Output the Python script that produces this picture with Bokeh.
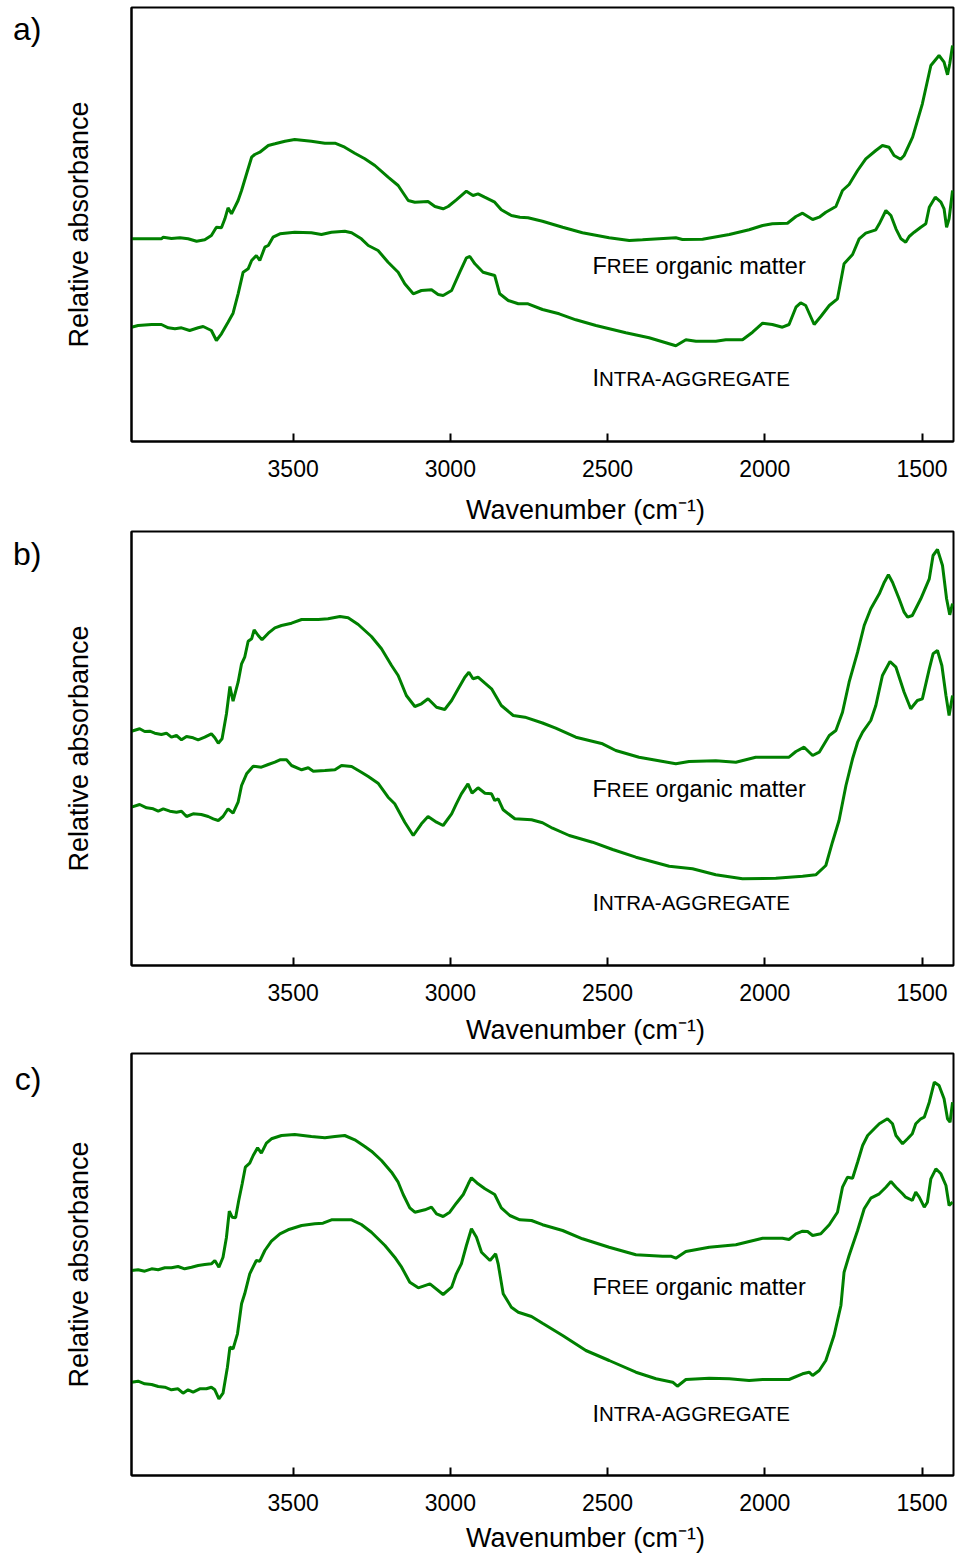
from bokeh.plotting import figure
from bokeh.layouts import column
from bokeh.models import Range1d, FixedTicker, Label, LinearAxis
from bokeh.embed import file_html
from bokeh.resources import INLINE

FONT = "Liberation Sans"
GREEN = "#008000"
WN_LEFT, WN_RIGHT = 4014, 1400
X_TICKS = [3500, 3000, 2500, 2000, 1500]
PANEL_TAGS = ["a)", "b)", "c)"]
Y_TITLE = "Relative absorbance"
X_TITLE = "Wavenumber (cm\u207b\u00b9)"
FREE_NAME = ("F", "REE", "organic matter")
INTRA_NAME = ("I", "NTRA-AGGREGATE", "")

# (wavenumber cm-1, relative absorbance, arbitrary offset units)
free_a = [(4014, 202.7), (3919, 202.7), (3913, 204.3), (3887, 203.0), (3860, 203.7), (3834, 202.7),
          (3807, 200.3), (3781, 201.7), (3760, 206.0), (3744, 214.3), (3728, 213.7), (3717, 222.7),
          (3707, 233.7), (3696, 227.7), (3675, 241.0), (3664, 251.0), (3648, 267.7), (3632, 284.3),
          (3622, 287.0), (3606, 289.3), (3579, 296.0), (3558, 297.7), (3526, 300.3), (3495, 302.0),
          (3442, 300.3), (3399, 298.3), (3367, 298.3), (3336, 294.3), (3304, 288.3), (3272, 282.7),
          (3240, 276.0), (3198, 264.3), (3166, 256.0), (3134, 241.0), (3113, 239.3), (3071, 240.0),
          (3049, 235.0), (3023, 232.7), (3007, 235.0), (2981, 241.7), (2949, 250.3), (2928, 246.0),
          (2912, 247.7), (2891, 244.3), (2859, 239.3), (2838, 231.7), (2806, 226.0), (2779, 224.3),
          (2753, 223.7), (2707, 220.3), (2643, 214.3), (2580, 208.7), (2495, 203.7), (2431, 201.0),
          (2389, 201.7), (2283, 203.7), (2262, 202.0), (2198, 202.3), (2113, 207.0), (2050, 211.7),
          (2007, 216.0), (1976, 217.7), (1928, 218.3), (1901, 225.0), (1880, 228.3), (1848, 222.0),
          (1827, 224.3), (1806, 229.3), (1774, 235.0), (1753, 251.0), (1732, 257.0), (1705, 271.0),
          (1679, 282.7), (1647, 291.0), (1626, 296.0), (1605, 294.3), (1589, 286.0), (1568, 282.3),
          (1557, 286.0), (1530, 304.3), (1499, 337.7), (1472, 376.0), (1446, 386.0), (1430, 379.3),
          (1419, 366.7), (1412, 377.7), (1403, 396.0)]

intra_a = [(4014, 114.3), (3993, 116.0), (3950, 117.0), (3919, 117.0), (3897, 113.7), (3876, 112.7),
           (3855, 113.7), (3829, 111.0), (3802, 113.7), (3786, 115.0), (3760, 111.0), (3744, 101.0),
           (3728, 107.7), (3707, 119.3), (3691, 128.3), (3675, 147.7), (3659, 169.3), (3643, 172.7),
           (3632, 181.0), (3617, 186.0), (3606, 181.0), (3590, 194.3), (3579, 196.0), (3564, 204.3),
           (3542, 207.7), (3495, 209.3), (3442, 208.7), (3410, 207.0), (3378, 209.3), (3336, 210.3),
           (3314, 208.7), (3283, 202.7), (3261, 196.0), (3230, 191.0), (3198, 179.3), (3166, 169.3),
           (3145, 157.7), (3118, 147.7), (3092, 151.0), (3060, 151.7), (3039, 147.0), (3023, 146.0),
           (2996, 151.0), (2970, 169.3), (2949, 183.7), (2938, 185.0), (2922, 177.7), (2896, 169.3),
           (2859, 166.0), (2843, 147.7), (2816, 141.0), (2784, 137.7), (2753, 137.7), (2707, 132.0),
           (2654, 127.7), (2601, 121.7), (2537, 116.0), (2442, 108.7), (2368, 103.7), (2283, 95.7),
           (2251, 101.7), (2219, 100.3), (2156, 100.3), (2124, 101.7), (2071, 101.7), (2039, 109.3),
           (2007, 118.3), (1976, 117.0), (1944, 114.3), (1923, 117.0), (1901, 134.3), (1886, 138.7),
           (1870, 136.0), (1843, 117.0), (1822, 125.0), (1795, 136.0), (1769, 142.7), (1748, 177.7),
           (1721, 187.0), (1700, 202.7), (1679, 208.3), (1647, 211.7), (1636, 217.7), (1615, 231.0),
           (1599, 226.0), (1583, 212.7), (1567, 202.7), (1552, 199.3), (1541, 205.0), (1525, 209.3),
           (1504, 214.3), (1488, 217.7), (1477, 234.3), (1458, 244.3), (1440, 239.3), (1430, 232.7),
           (1422, 214.3), (1414, 222.7), (1403, 251.0)]

free_b = [(4014, 234.3), (3988, 236.7), (3972, 234.0), (3956, 234.3), (3940, 232.3), (3919, 231.0),
          (3903, 232.3), (3887, 228.3), (3871, 230.0), (3855, 225.7), (3839, 229.0), (3818, 227.7),
          (3802, 225.7), (3781, 228.3), (3760, 231.7), (3749, 227.7), (3738, 222.3), (3726, 226.7),
          (3712, 251.7), (3701, 279.0), (3691, 264.3), (3675, 283.3), (3664, 301.7), (3654, 308.3),
          (3643, 324.3), (3632, 326.7), (3624, 335.7), (3611, 330.0), (3599, 325.7), (3579, 332.3),
          (3558, 337.7), (3537, 340.0), (3505, 342.3), (3473, 346.0), (3420, 346.0), (3389, 346.7),
          (3351, 349.0), (3325, 347.7), (3293, 341.0), (3251, 329.0), (3219, 316.7), (3187, 300.0),
          (3166, 290.0), (3140, 270.0), (3113, 259.0), (3092, 261.7), (3071, 266.7), (3044, 258.3),
          (3018, 256.0), (2996, 265.0), (2975, 276.7), (2954, 288.3), (2941, 293.3), (2928, 286.7),
          (2912, 288.3), (2890, 282.3), (2869, 276.7), (2838, 260.0), (2800, 250.0), (2763, 248.3),
          (2707, 242.5), (2665, 237.3), (2601, 228.3), (2516, 221.7), (2474, 215.0), (2400, 208.3),
          (2283, 201.7), (2241, 204.0), (2156, 204.7), (2092, 203.3), (2029, 208.3), (1965, 208.3),
          (1923, 208.3), (1901, 214.0), (1875, 218.3), (1848, 210.0), (1827, 213.3), (1795, 230.0),
          (1774, 235.0), (1753, 253.3), (1732, 283.3), (1705, 313.3), (1684, 340.0), (1663, 356.7),
          (1636, 371.7), (1620, 383.3), (1607, 390.7), (1594, 383.3), (1573, 366.7), (1557, 353.3),
          (1546, 348.3), (1531, 350.0), (1504, 366.7), (1477, 386.7), (1465, 410.0), (1451, 416.0),
          (1435, 400.0), (1422, 366.7), (1412, 350.7), (1403, 362.0)]

intra_b = [(4014, 158.3), (3988, 161.0), (3966, 157.7), (3945, 156.7), (3929, 154.3), (3913, 156.7),
           (3892, 154.3), (3871, 153.3), (3855, 154.3), (3839, 149.0), (3818, 151.7), (3792, 151.0),
           (3770, 149.0), (3754, 146.7), (3738, 145.0), (3723, 149.0), (3707, 156.7), (3691, 152.3),
           (3675, 163.3), (3664, 180.0), (3648, 191.7), (3627, 199.3), (3601, 198.3), (3579, 201.0),
           (3558, 203.3), (3542, 205.7), (3521, 205.7), (3505, 200.0), (3473, 195.7), (3452, 197.7),
           (3436, 194.3), (3399, 195.0), (3367, 195.7), (3346, 200.0), (3314, 199.0), (3283, 193.3),
           (3261, 189.0), (3230, 182.3), (3198, 168.3), (3177, 161.7), (3145, 143.3), (3118, 130.0),
           (3092, 141.7), (3071, 149.0), (3044, 143.3), (3023, 140.0), (2996, 151.7), (2981, 161.7),
           (2965, 171.7), (2944, 181.7), (2931, 172.3), (2912, 177.7), (2890, 172.3), (2869, 171.7),
           (2859, 165.0), (2848, 166.7), (2832, 155.7), (2795, 146.7), (2742, 145.7), (2707, 142.8),
           (2675, 137.3), (2622, 130.0), (2548, 123.3), (2484, 116.0), (2410, 108.3), (2304, 99.3),
           (2230, 96.7), (2156, 90.7), (2071, 86.7), (1965, 87.3), (1880, 89.3), (1838, 90.7),
           (1806, 100.0), (1785, 123.3), (1764, 145.0), (1742, 180.0), (1721, 206.7), (1705, 223.3),
           (1689, 233.3), (1663, 245.0), (1647, 260.0), (1626, 290.0), (1602, 304.0), (1583, 298.3),
           (1557, 273.3), (1536, 256.7), (1515, 265.0), (1499, 266.7), (1477, 296.7), (1465, 311.7),
           (1451, 315.0), (1437, 300.0), (1424, 270.0), (1414, 250.0), (1403, 270.0)]

free_c = [(4014, 205.0), (3993, 205.7), (3972, 204.3), (3950, 206.7), (3929, 205.7), (3908, 207.7),
          (3887, 207.7), (3866, 209.0), (3845, 206.7), (3823, 208.3), (3802, 210.0), (3781, 211.0),
          (3760, 211.7), (3749, 215.0), (3736, 208.3), (3723, 218.3), (3712, 238.3), (3703, 264.3),
          (3694, 258.3), (3683, 257.7), (3673, 275.0), (3662, 291.7), (3652, 308.3), (3638, 312.3),
          (3627, 320.0), (3613, 327.7), (3601, 322.3), (3585, 332.3), (3569, 336.7), (3537, 340.0),
          (3495, 341.0), (3442, 339.0), (3399, 337.7), (3367, 339.0), (3336, 340.0), (3304, 335.7),
          (3272, 329.0), (3251, 324.3), (3219, 315.0), (3187, 303.3), (3166, 293.3), (3150, 281.0),
          (3129, 267.7), (3113, 263.3), (3081, 265.7), (3060, 268.3), (3044, 261.7), (3023, 259.0),
          (3002, 263.3), (2981, 272.3), (2959, 281.0), (2943, 291.7), (2933, 297.7), (2912, 291.7),
          (2890, 286.7), (2859, 281.0), (2838, 267.7), (2811, 260.0), (2779, 255.7), (2742, 255.0),
          (2707, 250.8), (2643, 245.0), (2580, 236.7), (2495, 228.3), (2410, 220.7), (2325, 219.3),
          (2299, 219.3), (2283, 217.3), (2251, 224.0), (2177, 228.3), (2092, 230.7), (2007, 237.3),
          (1944, 237.3), (1923, 236.0), (1901, 241.7), (1880, 244.3), (1864, 244.0), (1848, 240.0),
          (1822, 241.7), (1795, 250.7), (1769, 263.3), (1753, 288.3), (1737, 298.3), (1721, 297.3),
          (1705, 313.3), (1689, 330.0), (1673, 340.0), (1652, 346.7), (1636, 351.7), (1610, 356.7),
          (1594, 351.7), (1583, 340.0), (1562, 331.7), (1546, 336.7), (1531, 341.7), (1520, 351.7),
          (1504, 356.7), (1493, 358.3), (1477, 373.3), (1461, 393.3), (1446, 390.0), (1430, 376.7),
          (1419, 356.7), (1411, 353.3), (1403, 373.3)]

intra_c = [(4014, 93.3), (3993, 94.3), (3972, 91.7), (3950, 91.0), (3929, 89.0), (3908, 88.3),
           (3887, 85.7), (3866, 86.7), (3850, 82.3), (3834, 85.7), (3818, 83.3), (3797, 86.7),
           (3776, 86.7), (3760, 88.3), (3749, 85.7), (3736, 76.7), (3723, 82.3), (3709, 108.3),
           (3701, 128.3), (3691, 126.7), (3677, 141.7), (3664, 171.7), (3654, 181.7), (3638, 201.7),
           (3617, 215.0), (3606, 214.3), (3590, 225.0), (3569, 234.3), (3542, 241.7), (3516, 245.7),
           (3473, 250.0), (3431, 251.7), (3405, 252.3), (3378, 255.7), (3314, 255.7), (3283, 251.0),
           (3251, 243.3), (3208, 230.0), (3177, 218.3), (3155, 208.3), (3129, 193.3), (3102, 187.7),
           (3065, 191.7), (3023, 181.0), (2996, 188.3), (2981, 201.7), (2965, 211.7), (2949, 230.0),
           (2933, 246.7), (2917, 238.3), (2901, 223.3), (2874, 215.0), (2856, 221.7), (2848, 211.7),
           (2832, 181.7), (2806, 168.3), (2784, 163.3), (2742, 159.0), (2707, 152.2), (2643, 140.0),
           (2569, 125.0), (2495, 115.0), (2410, 103.3), (2346, 96.7), (2293, 93.3), (2278, 89.3),
           (2251, 96.0), (2177, 97.3), (2113, 96.7), (2050, 95.0), (2007, 96.0), (1923, 96.0),
           (1880, 101.7), (1859, 103.3), (1848, 100.0), (1827, 105.0), (1806, 115.0), (1780, 140.0),
           (1758, 170.0), (1748, 203.3), (1732, 220.0), (1705, 245.0), (1684, 266.7), (1663, 277.3),
           (1636, 281.7), (1615, 288.3), (1599, 294.0), (1583, 288.3), (1562, 281.7), (1552, 278.3),
           (1541, 276.7), (1531, 275.0), (1520, 283.3), (1509, 278.3), (1493, 268.3), (1483, 273.3),
           (1472, 296.7), (1456, 306.7), (1440, 301.7), (1424, 290.0), (1414, 270.0), (1403, 273.3)]

# Arial-metric advance widths (em) for the characters drawn piecewise
ADV = {"F": .611, "R": .722, "E": .667, " ": .278, "o": .556, "r": .333, "g": .556, "a": .556,
       "n": .556, "i": .222, "c": .5, "m": .833, "t": .278, "e": .556, "I": .278, "N": .722,
       "T": .611, "A": .667, "-": .333, "G": .778}

NAME_X = 2548        # left edge of the sample names, cm-1
TITLE_X = 2570       # centre of the x-axis title, cm-1


def text_width(s, size):
    return sum(ADV.get(ch, .556) for ch in s) * size


def add_label(p, x, y, text, size, dx=0):
    p.add_layout(Label(x=x, y=y, x_offset=dx, text=text, text_font=FONT,
                       text_font_size=f"{size}px", text_color="black",
                       text_baseline="alphabetic", text_align="left"))


def add_small_caps(p, x, y, parts, big=23.5, small=20.5):
    head, caps, tail = parts
    add_label(p, x, y, head, big, 0)
    dx = text_width(head, big)
    add_label(p, x, y, caps, small, dx)
    dx += text_width(caps, small) + text_width(" ", big)
    if tail:
        add_label(p, x, y, tail, big, dx)


def bare_axis(axis):
    axis.axis_line_color = None
    axis.major_tick_line_color = None
    axis.minor_tick_line_color = None
    axis.major_tick_in = 0
    axis.major_tick_out = 0
    axis.minor_tick_in = 0
    axis.minor_tick_out = 0
    axis.major_label_text_font = FONT
    axis.major_label_text_color = "black"


def make_panel(tag, free, intra, height, frame_h, top, bottom, free_y, intra_y,
               tag_drop, title_standoff):
    p = figure(width=958, height=height, x_range=Range1d(WN_LEFT, WN_RIGHT),
               y_range=Range1d(0, frame_h), output_backend="svg", toolbar_location=None,
               min_border_left=131, min_border_right=5, min_border_top=top,
               min_border_bottom=bottom, background_fill_color="white",
               border_fill_color="white")
    p.grid.visible = False
    p.outline_line_color = "black"
    p.outline_line_width = 2
    p.outline_line_alpha = 1

    for curve in (free, intra):
        xs, ys = zip(*curve)
        p.line(list(xs), list(ys), line_color=GREEN, line_width=3)

    xa = p.xaxis[0]
    xa.ticker = FixedTicker(ticks=X_TICKS)
    xa.major_tick_in = 8
    xa.major_tick_out = 0
    xa.minor_tick_in = 0
    xa.minor_tick_out = 0
    xa.axis_line_width = 2
    xa.major_tick_line_width = 2
    xa.major_label_text_font = FONT
    xa.major_label_text_font_size = "23px"
    xa.major_label_text_color = "black"
    xa.major_label_standoff = 18

    # x-axis title, set as a single tick label so it can sit off-centre
    title_axis = LinearAxis(ticker=FixedTicker(ticks=[TITLE_X]),
                            major_label_overrides={TITLE_X: X_TITLE})
    bare_axis(title_axis)
    title_axis.major_label_text_font_size = "27px"
    title_axis.major_label_standoff = title_standoff
    p.add_layout(title_axis, "below")

    ya = p.yaxis[0]
    ya.ticker = FixedTicker(ticks=[])
    ya.major_tick_in = 0
    ya.major_tick_out = 0
    ya.minor_tick_in = 0
    ya.minor_tick_out = 0
    ya.axis_line_width = 2
    ya.axis_label = Y_TITLE
    ya.axis_label_text_font = FONT
    ya.axis_label_text_font_size = "27px"
    ya.axis_label_text_font_style = "normal"
    ya.axis_label_text_color = "black"
    ya.axis_label_standoff = 38

    # panel tag in the top-left corner
    tag_pos = frame_h - tag_drop
    tag_axis = LinearAxis(ticker=FixedTicker(ticks=[tag_pos]),
                          major_label_overrides={tag_pos: tag})
    bare_axis(tag_axis)
    tag_axis.major_label_text_font_size = "32px"
    tag_axis.major_label_standoff = 19
    p.add_layout(tag_axis, "left")

    # sample names inside the frame
    add_small_caps(p, NAME_X, free_y, FREE_NAME)
    add_small_caps(p, NAME_X, intra_y, INTRA_NAME)
    return p


# panel a: rows 0-530, panel b: 530-1052, panel c: 1052-1557
pa = make_panel(PANEL_TAGS[0], free_a, intra_a, 530, 434, 7, 89, 175.7, 63.3, 21, 15)
pb = make_panel(PANEL_TAGS[1], free_b, intra_b, 522, 434, 1, 87, 176.3, 63.0, 22, 11)
pc = make_panel(PANEL_TAGS[2], free_c, intra_c, 505, 422, 1, 82, 188.7, 62.0, 25, 9)

layout = column(pa, pb, pc, spacing=0)
open("out.html", "w").write(file_html(layout, INLINE))
